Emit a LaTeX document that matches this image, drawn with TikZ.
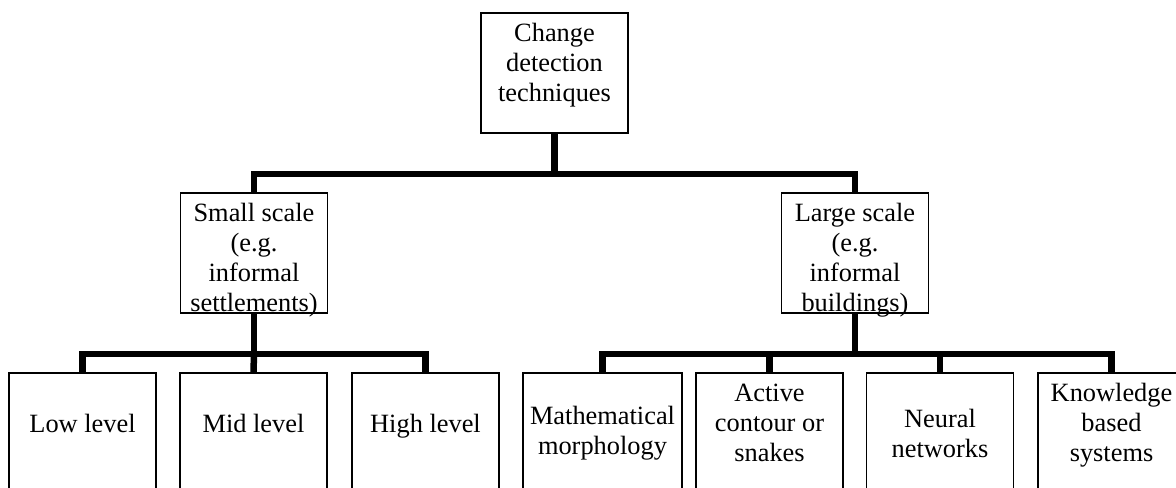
\documentclass[tikz,border=0pt]{standalone}
\usepackage{fontspec}
\setmainfont{Liberation Serif}
\usetikzlibrary{calc}
\tikzset{
  box/.style={draw, line width=0.45pt, align=center, inner sep=0pt,
    minimum width=1.47cm, minimum height=1.2cm,
    font=\fontsize{7.5}{8.54}\selectfont},
  conn/.style={line width=1.85pt},
  lift/.style={text depth=#1},
  sink/.style={text height=#1, text depth=0pt},
}
\begin{document}
\begin{tikzpicture}[x=0.01cm,y=-0.01cm]
  \useasboundingbox (0,0) rectangle (1176,487);
  \clip (0,0) rectangle (1176,487);

  % root and the two scales
  \node[box,lift=0.22cm] (top) at (554.5,73) {Change\\detection\\techniques};
  \node[box,sink=1.17cm] (small) at (254,253) {Small scale\\(e.g.\\informal\\settlements)};
  \node[box,sink=1.17cm] (large) at (855,253) {Large scale\\(e.g.\\informal\\buildings)};

  % leaves
  \node[box,lift=0.2cm] (low) at (82.5,433) {Low level};
  \node[box,lift=0.2cm] (mid) at (253.5,433) {Mid level};
  \node[box,lift=0.2cm] (high) at (425.5,433) {High level};
  \node[box,minimum width=1.59cm] (math) at (602.5,433) {Mathematical\\morphology};
  \node[box,lift=0.2cm] (active) at (769.5,433) {Active\\contour or\\snakes};
  \node[box] (neural) at (940,433) {Neural\\networks};
  \node[box,lift=0.22cm] (know) at (1111.5,433) {Knowledge\\based\\systems};

  % connectors
  \coordinate (bar0) at ($(top.south)+(0,40)$);
  \coordinate (bar1) at ($(small.south)+(0,40)$);
  \coordinate (bar2) at ($(large.south)+(0,40)$);
  \draw[conn] (top.south) -- (bar0);
  \draw[conn] (small.north) |- (bar0) -| (large.north);
  \draw[conn] (small.south) -- (bar1);
  \draw[conn] (low.north) |- (bar1) -| (high.north);
  \draw[conn] (mid.north) -- (bar1);
  \draw[conn] (large.south) -- (bar2);
  \draw[conn] (math.north) |- (bar2) -| (know.north);
  \draw[conn] (active.north) |- (bar2);
  \draw[conn] (neural.north) |- (bar2);
\end{tikzpicture}
\end{document}
